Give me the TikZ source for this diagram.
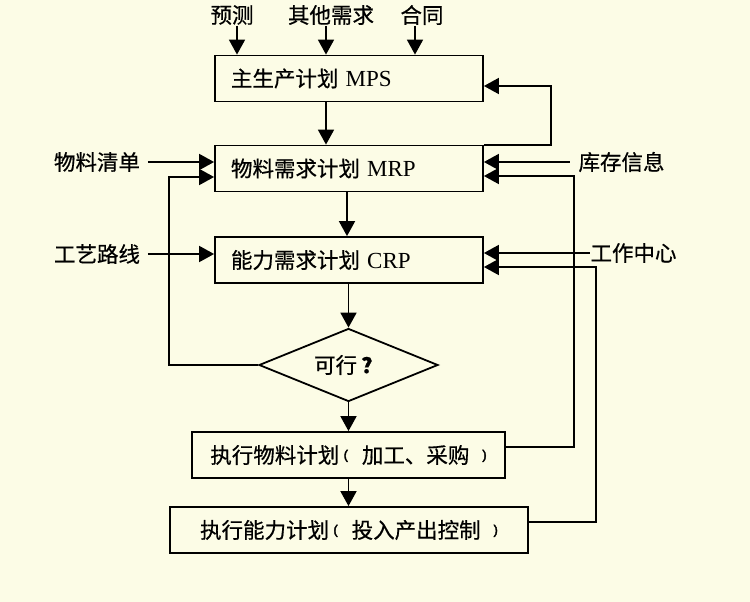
\documentclass[tikz,border=0pt]{standalone}
\usepackage{fontspec}
\setmainfont{Liberation Serif}
\newfontfamily\cjk[FakeBold=0.6]{Noto Sans CJK SC}
\newfontfamily\parfont[FakeBold=3]{Liberation Sans}
\usetikzlibrary{arrows.meta,shapes.geometric}
\definecolor{bgc}{RGB}{252,252,230}
\newcommand\myLp{\hspace{0.2em}\raisebox{0.18em}{\parfont\fontsize{13}{13}\selectfont (}\hspace{0.65em}}
\newcommand\myRp{\hspace{0.6em}\raisebox{0.18em}{\parfont\fontsize{13}{13}\selectfont )}}
\begin{document}
\begin{tikzpicture}[x=1pt,y=-1pt,
  line width=1.8pt,
  arr/.style={-{Triangle[length=15pt,width=16pt]}},
  txt/.style={font=\fontsize{21.5}{24}\selectfont},
  box/.style={draw, txt, minimum height=46pt, inner ysep=0pt},
  lbox/.style={box, minimum width=268pt, text width=236pt, inner xsep=16pt, align=left},
  lbl/.style={txt, inner sep=0pt},
]
\fill[bgc] (0,0) rectangle (750,602);
\useasboundingbox (0,0) rectangle (750,602);

% boxes
\node[lbox] (mps) at (349,78.5) {{\cjk 主生产计划} \fontsize{23}{24}\selectfont MPS};
\node[lbox] (mrp) at (349,168.5) {{\cjk 物料需求计划} \fontsize{23}{24}\selectfont MRP};
\node[lbox] (crp) at (349,260) {{\cjk 能力需求计划} \fontsize{23}{24}\selectfont CRP};
\node[draw, shape=diamond, aspect=2.45, inner sep=0pt, minimum width=179pt, minimum height=73pt, txt] (dia) at (348.5,365) {{\cjk 可行}\hspace{0.2em}{\cjk\bfseries ？}};
\node[box, minimum width=313pt] (ex1) at (348.5,455) {{\cjk 执行物料计划}\myLp{\cjk 加工、采购}\myRp};
\node[box, minimum width=358pt] (ex2) at (349,530) {{\cjk 执行能力计划}\myLp{\cjk 投入产出控制}\myRp};

% labels
\node[lbl] (yc) at (232,15) {\cjk 预测};
\node[lbl] (qt) at (331,15) {\cjk 其他需求};
\node[lbl] (ht) at (422,15) {\cjk 合同};
\node[lbl] (wl) at (97,162) {\cjk 物料清单};
\node[lbl] (gy) at (97,254) {\cjk 工艺路线};
\node[lbl] (kc) at (621.5,162) {\cjk 库存信息};
\node[lbl] (gz) at (633.5,253) {\cjk 工作中心};

% top inputs
\draw[arr] ([xshift=5pt]yc.south) -- ([xshift=5pt]yc.south |- mps.north);
\draw[arr] ([xshift=-5pt]qt.south) -- ([xshift=-5pt]qt.south |- mps.north);
\draw[arr] ([xshift=-7pt]ht.south) -- ([xshift=-7pt]ht.south |- mps.north);

% main flow
\draw[arr] ([xshift=-23pt]mps.south) -- ([xshift=-23pt]mps.south |- mrp.north);
\draw[arr] ([xshift=-2pt]mrp.south) -- ([xshift=-2pt]mrp.south |- crp.north);
\draw[arr] (crp.south -| dia.north) -- (dia.north);
\draw[arr] (dia.south) -- (dia.south |- ex1.north);
\draw[arr] (ex1.south -| dia.south) -- (dia.south |- ex2.north);

% side inputs
\draw[arr] ([xshift=7pt]wl.east) -- (wl.east -| mrp.west);
\draw[arr] ([xshift=7pt]gy.east) -- (gy.east -| crp.west);
\draw[arr] ([xshift=-8pt]kc.west) -- (kc.west -| mrp.east);
\draw[arr] (gz.west) -- (gz.west -| crp.east);

% feedback loops
\draw[arr] (mrp.north east) -- ++(67,0) |- ([yshift=-7.5pt]mps.east);
\draw[arr] (dia.west) -- ++(-89,0) |- ([yshift=-8.5pt]mrp.west);
\draw[arr] ([yshift=8pt]ex1.east) -- ++(68,0) |- ([yshift=-7.5pt]mrp.east);
\draw[arr] ([yshift=8pt]ex2.east) -- ++(67,0) |- ([yshift=-7pt]crp.east);
\end{tikzpicture}
\end{document}
